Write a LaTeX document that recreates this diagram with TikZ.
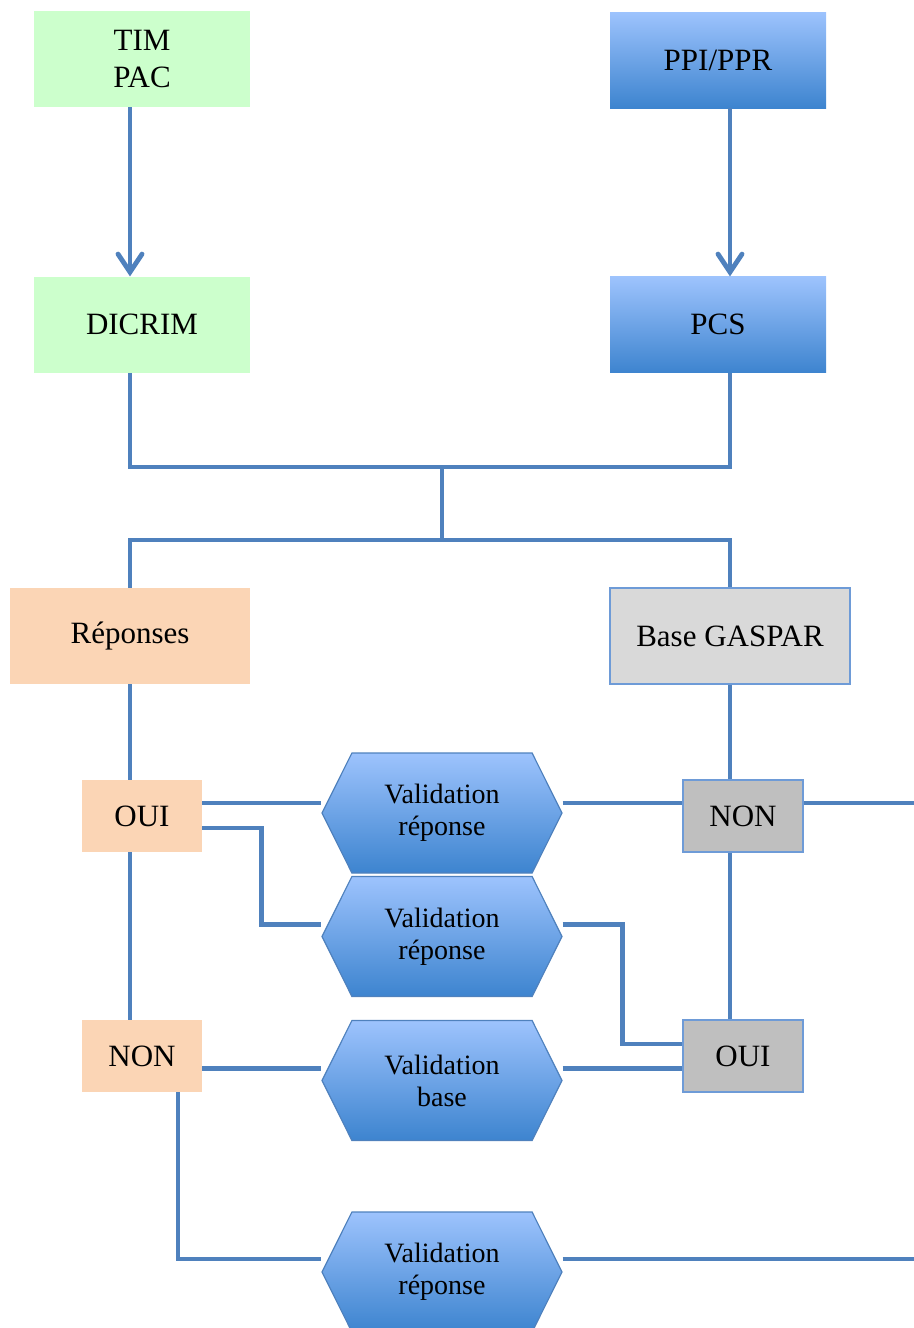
\documentclass[tikz,border=0pt]{standalone}
\usepackage{fontspec}
\setmainfont{Liberation Serif}
\usetikzlibrary{arrows.meta,positioning,shapes.symbols}
\definecolor{lineColor}{RGB}{79,129,189}
\definecolor{greenColor}{RGB}{204,255,204}
\definecolor{peachColor}{RGB}{251,213,181}
\definecolor{lightGray}{RGB}{217,217,217}
\definecolor{midGray}{RGB}{191,191,191}
\definecolor{blueTop}{RGB}{157,195,253}
\definecolor{blueBot}{RGB}{61,132,207}
\definecolor{borderColor}{RGB}{110,155,215}
\newcommand{\boxfont}{\fontsize{15.5}{18.5}\selectfont}
\newcommand{\hexfont}{\fontsize{14}{16}\selectfont}

\begin{document}
\begin{tikzpicture}[x=0.5pt, y=-0.5pt,
    greenbox/.style={fill=greenColor, minimum width=108pt, minimum height=48pt, align=center, font=\boxfont},
    bluebox/.style={top color=blueTop, bottom color=blueBot, minimum width=108pt, minimum height=48pt, align=center, font=\boxfont},
    peachbox/.style={fill=peachColor, minimum width=120pt, minimum height=48pt, font=\boxfont},
    graybox/.style={draw=borderColor, line width=0.8pt, fill=lightGray, minimum width=120pt, minimum height=48pt, font=\boxfont},
    peachsmall/.style={fill=peachColor, minimum width=60pt, minimum height=36pt, font=\boxfont},
    graysmall/.style={draw=borderColor, line width=0.8pt, fill=midGray, minimum width=60pt, minimum height=36pt, font=\boxfont},
    hexa/.style={signal, signal to=west and east, signal pointer angle=127, draw=lineColor, line width=0.6pt, top color=blueTop, bottom color=blueBot, minimum width=120pt, minimum height=60pt, inner sep=0pt, align=center, font=\hexfont},
    link/.style={lineColor, line width=2.4pt},
    arr/.style={-{Straight Barb[length=9pt, width=12pt, line cap=round]}, lineColor, line width=2.4pt}
  ]
  \clip (0,0) rectangle (914,1328);

  % sources
  \node[greenbox] (tim) at (142,59) {TIM\\PAC};
  \node[greenbox, below=84.5pt of tim] (dicrim) {DICRIM};
  \node[bluebox] (ppi) at (718,60) {PPI/PPR};
  \node[bluebox, below=84pt of ppi] (pcs) {PCS};

  \node[peachbox] (rep) at (130,636) {Réponses};
  \node[graybox] (gaspar) at (730,636) {Base GASPAR};

  \node[peachsmall] (oui1) at (142,816) {OUI};
  \node[graysmall] (non1) at (743,816) {NON};
  \node[peachsmall] (non2) at (142,1056) {NON};
  \node[graysmall] (oui2) at (743,1056) {OUI};

  % validations
  \node[hexa] (hex1) at (442,813) {Validation\\réponse};
  \node[hexa] (hex2) at (442,936.5) {Validation\\réponse};
  \node[hexa] (hex3) at (442,1080.5) {Validation\\base};
  \node[hexa] (hex4) at (442,1272) {Validation\\réponse};

  \coordinate (join1) at (442,467);
  \coordinate (join2) at (442,540);
  \coordinate (exit1) at (914,803);

  \draw[arr] ([xshift=-6pt]tim.south) -- ([xshift=-6pt]dicrim.north);
  \draw[arr] ([xshift=6pt]ppi.south) -- ([xshift=6pt]pcs.north);
  \draw[link] ([xshift=-6pt]dicrim.south) |- (join1) -| ([xshift=6pt]pcs.south);
  \draw[link] (join1) -- (join2);
  \draw[link] (rep.north) |- (join2) -| (gaspar.north);
  \draw[link] (rep.south) -- (rep.south |- oui1.north);
  \draw[link] (gaspar.south) -- (gaspar.south |- non1.north);

  % first row
  \coordinate (v1) at ([yshift=5pt]hex1.west);
  \draw[link] (oui1.east |- v1) -- (v1);
  \draw[link] ([yshift=5pt]hex1.east) -- (non1.west |- v1);
  \draw[link] (non1.east |- v1) -- (exit1);

  % second row
  \coordinate (v2) at ([yshift=6pt]hex2.west);
  \coordinate (v2r) at ([yshift=6pt]hex2.east);
  \draw[link] ([yshift=-6pt]oui1.east) -| ([xshift=-30pt]v2) -- (v2);
  \draw[link] (v2r) -- ++(60,0) |- ([yshift=6pt]oui2.west);
  \draw[link] ([xshift=-6pt]oui1.south) -- ([xshift=-6pt]non2.north);
  \draw[link] (gaspar.south |- non1.south) -- (gaspar.south |- oui2.north);

  % third row
  \coordinate (v3) at ([yshift=6pt]hex3.west);
  \draw[link] (non2.east |- v3) -- (v3);
  \draw[link] ([yshift=6pt]hex3.east) -- (oui2.west |- v3);

  % last row
  \coordinate (v4) at ([yshift=6.5pt]hex4.west);
  \draw[link] ([xshift=18pt]non2.south) |- (v4);
  \draw[link] ([yshift=6.5pt]hex4.east) -- (exit1 |- v4);
\end{tikzpicture}
\end{document}
